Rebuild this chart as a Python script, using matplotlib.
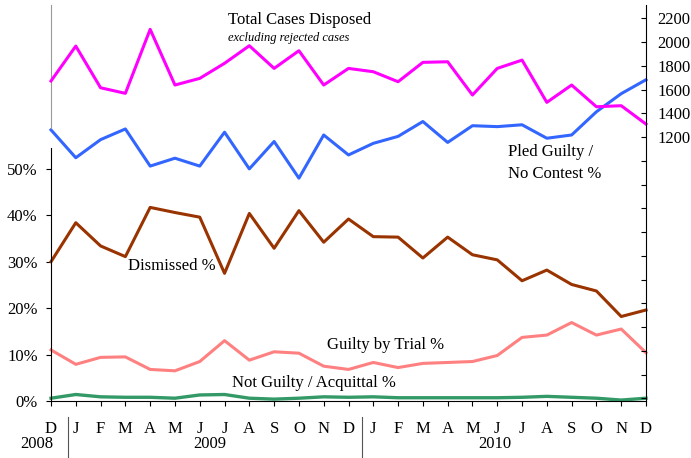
import matplotlib
matplotlib.use("Agg")
import matplotlib.pyplot as plt
import matplotlib.transforms as mtransforms
from matplotlib.ticker import FixedLocator, FuncFormatter

# Ay etiketleri (Aralik 2008 - Aralik 2010)
months = ["D", "J", "F", "M", "A", "M", "J", "J", "A", "S", "O", "N", "D",
          "J", "F", "M", "A", "M", "J", "J", "A", "S", "O", "N", "D"]
years = ["2008", "2009", "2010"]
year_pos = [-0.56, 6.4, 17.9]

total_cases = [1672, 1966, 1615, 1568, 2107, 1638, 1694, 1821, 1969, 1778, 1927, 1638, 1778,
               1750, 1666, 1829, 1834, 1554, 1778, 1848, 1492, 1638, 1455, 1464, 1309]
pled_guilty = [58.4, 52.4, 56.3, 58.6, 50.6, 52.3, 50.6, 57.9, 50.0, 55.9, 48.0, 57.3, 53.0,
               55.5, 57.0, 60.2, 55.7, 59.3, 59.1, 59.5, 56.6, 57.3, 62.3, 66.2, 69.2]
dismissed = [30.0, 38.4, 33.4, 31.1, 41.7, 40.6, 39.6, 27.5, 40.4, 32.9, 41.0, 34.2, 39.2,
             35.4, 35.3, 30.8, 35.3, 31.5, 30.4, 25.9, 28.2, 25.1, 23.7, 18.2, 19.6]
guilty_trial = [11.0, 7.9, 9.4, 9.5, 6.8, 6.5, 8.5, 13.0, 8.8, 10.6, 10.3, 7.5, 6.8,
                8.3, 7.2, 8.1, 8.3, 8.5, 9.8, 13.7, 14.2, 16.9, 14.2, 15.5, 10.4]
not_guilty = [0.6, 1.4, 0.9, 0.8, 0.8, 0.6, 1.3, 1.4, 0.6, 0.4, 0.6, 0.9, 0.8,
              0.9, 0.7, 0.7, 0.7, 0.7, 0.7, 0.8, 1.0, 0.8, 0.6, 0.2, 0.6]

plt.rcParams['font.family'] = ['Liberation Serif', 'DejaVu Serif']
plt.rcParams['mathtext.default'] = 'regular'

W, H = 691, 458
fig = plt.figure(figsize=(W / 100, H / 100), dpi=100)
ax = fig.add_axes([51 / W, 57 / H, 595 / W, 396 / H])
ax2 = ax.twinx()

x = list(range(len(months)))
ax.plot(x, pled_guilty, color="#3366FF", lw=2.2, clip_on=False)
ax.plot(x, dismissed, color="#993300", lw=2.2, clip_on=False)
ax.plot(x, guilty_trial, color="#FF8080", lw=2.2, clip_on=False)
ax.plot(x, not_guilty, color="#339966", lw=2.4, clip_on=False)
ax2.plot(x, total_cases, color="#FF00FF", lw=2.2, clip_on=False)

ax.set_xlim(0, 24)
ax.set_ylim(0, 85.3)
ax2.set_ylim(-1023, 2312)

# sol eksen
ax.spines['top'].set_visible(False)
ax.spines['right'].set_visible(False)
ax.spines['left'].set_bounds(0, 54.5)
ax.set_yticks([0, 10, 20, 30, 40, 50])
ax.set_yticklabels(["0%", "10%", "20%", "30%", "40%", "50%"])
ax.tick_params(axis='y', direction='out', length=3.6, pad=6, labelsize=12)
ax.plot([0, 0], [0.689, 1], transform=ax.transAxes, color="#999999", lw=0.8, clip_on=False)

# alt eksen
ax.set_xticks(x)
ax.set_xticklabels(months)
ax.tick_params(axis='x', direction='out', length=3.6, pad=11, labelsize=12)

# sag eksen
for s in ['top', 'left', 'bottom']:
    ax2.spines[s].set_visible(False)
ax2.yaxis.set_major_locator(FixedLocator(list(range(-1000, 2201, 200))))
ax2.yaxis.set_major_formatter(FuncFormatter(lambda v, p: "%d" % v if v >= 1200 else ""))
ax2.tick_params(axis='y', direction='in', length=3.6, pad=8, labelsize=12)

# yillar ve ayiricilar
trans = mtransforms.blended_transform_factory(ax.transData, ax.transAxes)
for yr, xp in zip(years, year_pos):
    ax.text(xp, -0.109, yr, transform=trans, ha='center', va='center', fontsize=12)
for xs in [0.69, 12.54]:
    ax.plot([xs, xs], [-0.04, -0.16], transform=trans, color="#555555", lw=0.8, clip_on=False)

# etiketler
def label(px, py, s, **kw):
    fig.text(px / W, 1 - py / H, s, ha='left', va='center', **kw)

label(228, 20, "Total Cases Disposed", fontsize=12)
label(228, 38, "excluding rejected cases", fontsize=9, style='italic')
label(508, 152, "Pled Guilty /", fontsize=12)
label(508, 174, "No Contest %", fontsize=12)
label(128, 266, "Dismissed %", fontsize=12)
label(327, 345, "Guilty by Trial %", fontsize=12)
label(232, 383, "Not Guilty / Acquittal %", fontsize=12)

fig.savefig("out.png", dpi=100)
